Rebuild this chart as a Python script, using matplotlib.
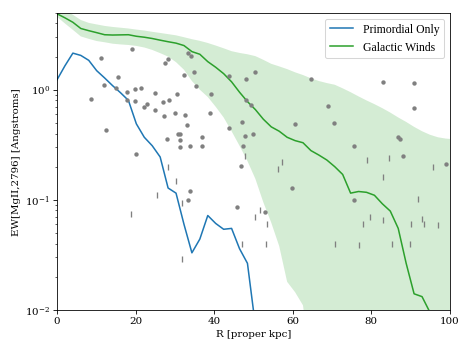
import matplotlib
matplotlib.use("Agg")
import matplotlib.pyplot as plt

plt.rcParams['font.family'] = 'serif'
plt.rcParams['font.serif'] = ['DejaVu Serif']
plt.rcParams['mathtext.fontset'] = 'dejavuserif'

# radial grid of the model curves [proper kpc]
r_grid = [0.0, 2.02, 4.04, 6.06, 8.08, 10.1, 12.12, 14.14, 16.16, 18.18,
          20.2, 22.22, 24.24, 26.26, 28.28, 30.3, 32.32, 34.34, 36.36, 38.38,
          40.4, 42.42, 44.44, 46.46, 48.48, 50.5, 52.52, 54.54, 56.56, 58.58,
          60.6, 62.62, 64.64, 66.66, 68.68, 70.7, 72.72, 74.74, 76.76, 78.78,
          80.8, 82.82, 84.84, 86.86, 88.88, 90.9, 92.92, 94.94, 96.96, 98.98,
          101.0]

# primordial only model (stops once it is off the bottom)
ew_primordial = [1.23, 1.65, 2.15, 2.05, 1.85, 1.49, 1.28, 1.09, 0.94, 0.80,
                 0.49, 0.37, 0.31, 0.245, 0.128, 0.115, 0.060, 0.033, 0.044, 0.072,
                 0.061, 0.054, 0.055, 0.036, 0.0265, 0.0072, 0.003]

# galactic winds model, median and scatter band
ew_winds = [4.9, 4.5, 4.1, 3.6, 3.44, 3.3, 3.16, 3.14, 3.15, 3.16,
            3.06, 3.0, 2.92, 2.82, 2.73, 2.65, 2.52, 2.22, 2.1, 1.8,
            1.6, 1.4, 1.18, 0.95, 0.78, 0.66, 0.54, 0.46, 0.42, 0.37,
            0.345, 0.33, 0.28, 0.255, 0.23, 0.2, 0.17, 0.115, 0.119, 0.117,
            0.11, 0.092, 0.079, 0.055, 0.0265, 0.014, 0.0132, 0.0095, 0.005, 0.003,
            0.002]
winds_hi = [6.0, 5.3, 4.8, 4.3, 4.05, 3.92, 3.8, 3.72, 3.66, 3.6,
            3.52, 3.45, 3.36, 3.28, 3.2, 3.12, 3.0, 2.88, 2.78, 2.66,
            2.52, 2.38, 2.24, 2.16, 2.1, 2.02, 1.87, 1.72, 1.63, 1.54,
            1.44, 1.36, 1.27, 1.2, 1.15, 1.11, 1.03, 0.95, 0.87, 0.8,
            0.74, 0.68, 0.62, 0.56, 0.51, 0.46, 0.42, 0.39, 0.37, 0.36,
            0.355]
winds_lo = [4.6, 4.0, 3.5, 3.05, 2.9, 2.77, 2.7, 2.62, 2.58, 2.55,
            2.5, 2.42, 2.3, 2.15, 2.0, 1.78, 1.52, 1.2, 1.0, 0.86,
            0.7, 0.56, 0.42, 0.31, 0.225, 0.155, 0.095, 0.062, 0.038, 0.018,
            0.0145, 0.011, 0.003, 0.001, 0.001, 0.001, 0.001, 0.001, 0.001, 0.001,
            0.001, 0.001, 0.001, 0.001, 0.001, 0.001, 0.001, 0.001, 0.001, 0.001,
            0.001]

# observed detections
det_r = [19.0, 11.2, 28.2, 27.5, 33.4, 34.0, 15.6, 32.4, 34.9, 12.0,
         15.0, 17.9, 19.9, 21.4, 24.9, 30.5, 35.5, 39.2, 43.9, 48.0,
         50.4, 8.6, 17.9, 19.9, 22.2, 23.0, 25.0, 27.1, 28.6, 27.3,
         30.0, 32.5, 33.1, 38.9, 48.1, 49.3, 43.9, 47.2, 47.8, 49.9,
         12.5, 30.9, 31.3, 28.1, 31.2, 37.0, 31.2, 33.9, 37.0, 47.4,
         20.1, 64.7, 83.0, 90.9, 69.0, 90.9, 60.6, 70.4, 86.9, 87.3,
         75.6, 88.0, 99.0, 33.8, 33.3, 46.9, 45.9, 59.9, 75.6, 52.9]
det_ew = [2.36, 1.93, 1.91, 1.75, 2.15, 2.01, 1.30, 1.36, 1.44, 1.11,
          1.04, 0.96, 1.02, 1.04, 0.94, 0.91, 1.09, 0.92, 1.33, 1.24,
          1.46, 0.82, 0.81, 0.79, 0.70, 0.74, 0.65, 0.77, 0.80, 0.58,
          0.61, 0.59, 0.48, 0.61, 0.81, 0.72, 0.45, 0.51, 0.38, 0.40,
          0.43, 0.40, 0.40, 0.36, 0.35, 0.37, 0.30, 0.31, 0.31, 0.31,
          0.26, 1.24, 1.17, 1.16, 0.71, 0.68, 0.49, 0.50, 0.37, 0.36,
          0.31, 0.25, 0.21, 0.12, 0.10, 0.204, 0.086, 0.127, 0.10, 0.077]

# observed upper limits
lim_r = [28.2, 30.2, 25.5, 31.9, 18.9, 31.9, 47.1, 47.8, 78.8, 84.6,
         95.8, 57.4, 56.2, 83.0, 91.9, 51.8, 50.5, 53.5, 79.8, 77.9,
         83.0, 93.0, 90.1, 93.3, 96.9, 53.2, 70.8, 76.9, 85.4, 89.8]
lim_ew = [0.20, 0.149, 0.111, 0.094, 0.074, 0.029, 0.040, 0.25, 0.23, 0.24,
          0.20, 0.22, 0.19, 0.162, 0.101, 0.080, 0.070, 0.060, 0.070, 0.060,
          0.066, 0.067, 0.060, 0.060, 0.059, 0.040, 0.040, 0.039, 0.040, 0.040]

fig = plt.figure(figsize=(6.4, 4.8), dpi=73.6)
ax = fig.add_axes([0.121, 0.122, 0.834, 0.841])

ax.fill_between(r_grid, winds_lo, winds_hi, color='C2', alpha=0.2, lw=0)
ax.plot(r_grid[:len(ew_primordial)], ew_primordial, color='C0', lw=1.5,
        label='Primordial Only')
ax.plot(r_grid, ew_winds, color='C2', lw=1.5, label='Galactic Winds')
ax.plot(det_r, det_ew, 'o', color='gray', ms=4.3, mew=0)
ax.plot(lim_r, lim_ew, '|', color='gray', ms=6, mew=1.3)

ax.set_yscale('log')
ax.set_xlim(0, 100)
ax.set_ylim(1e-2, 5)
ax.set_xlabel('R [proper kpc]')
ax.set_ylabel('EW[MgII,2796] [Angstroms]')
ax.legend(loc='upper right', prop={'family': 'Liberation Serif', 'size': 11.5})

fig.savefig('out.png', dpi=73.6)
